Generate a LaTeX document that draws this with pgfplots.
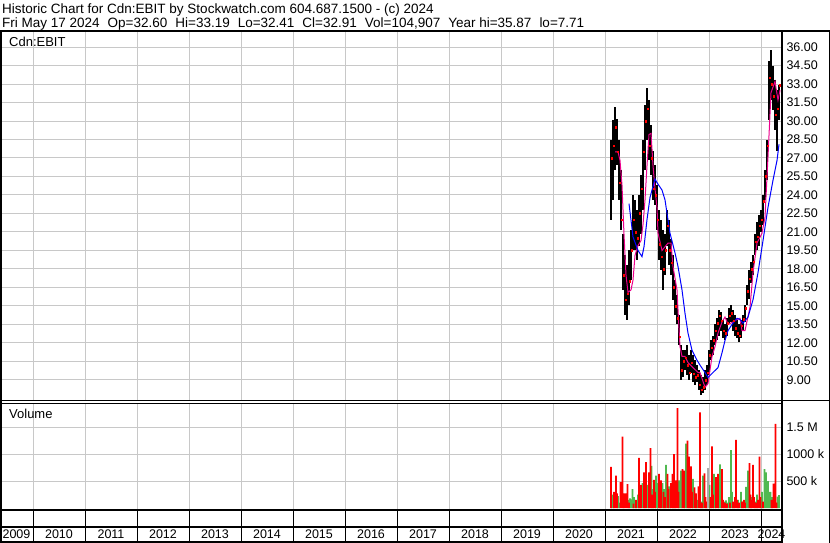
\documentclass[border=0pt]{standalone}
\usepackage{fontspec}
\setmainfont{Liberation Sans}
\usepackage{pgfplots}
\usepackage{pgfplotstable}
\pgfplotsset{compat=1.18}

\definecolor{gridgray}{RGB}{200,200,200}
\definecolor{volred}{RGB}{255,0,0}
\definecolor{volgreen}{RGB}{80,185,80}
\definecolor{volgray}{RGB}{170,170,170}

% w = weeks since 1 Jan 2021 (52 weeks a year on the chart)
\pgfplotstableread{
w    lo    hi    cl
6    22.0  28.5  27.0
8    23.6  30.1  28.0
10   26.0  31.1  29.5
12   26.4  30.2  27.5
14   23.6  28.5  25.0
16   21.2  26.0  22.0
18   16.3  20.8  17.5
20   14.3  19.1  15.5
22   13.9  18.3  16.0
24   15.1  19.5  17.0
26   17.1  21.2  19.5
28   19.5  24.0  22.0
30   19.5  23.6  21.0
32   18.7  22.8  20.5
34   19.9  24.0  22.5
36   20.8  25.6  24.5
38   22.8  28.5  27.5
40   26.0  31.3  30.0
42   28.5  32.7  31.0
44   26.8  31.7  28.0
46   25.6  29.7  27.0
48   23.6  27.6  24.5
50   23.2  26.4  24.0
52   21.2  24.8  22.0
54   18.7  22.8  20.0
56   17.9  22.0  19.0
58   16.3  21.2  18.0
60   17.5  20.8  19.5
62   19.9  22.8  21.5
64   18.3  22.0  19.5
66   17.5  20.4  18.5
68   15.5  19.1  16.5
70   14.3  17.1  15.0
72   13.5  15.9  14.0
74   11.8  14.3  12.5
76   9.0   11.8  9.8
78   9.2   11.4  10.5
80   9.8   11.4  10.8
82   9.4   11.8  10.2
84   9.0   11.0  9.6
86   9.6   11.4  10.4
88   8.8   11.0  9.5
90   8.6   10.6  9.2
92   8.8   10.2  9.4
94   8.2   9.8   8.6
96   7.8   9.4   8.2
98   7.9   9.2   8.4
100  8.2   9.8   9.0
102  8.6   10.2  9.6
104  9.4   11.4  11.0
106  10.6  12.2  11.6
108  11.0  12.6  12.2
110  11.8  13.5  13.0
112  12.2  14.0  13.6
114  12.6  14.7  14.2
116  13.0  14.5  13.8
118  12.4  13.9  13.0
120  12.2  13.5  12.8
122  12.6  14.0  13.6
124  13.5  14.8  14.2
126  13.7  15.1  14.4
128  13.0  14.7  13.8
130  12.6  14.3  13.2
132  12.4  13.9  12.8
134  12.1  13.5  12.6
136  12.4  13.9  13.4
138  13.0  14.3  13.9
140  13.7  15.1  14.8
142  15.1  16.7  16.2
144  15.6  17.9  17.2
146  16.9  18.6  18.0
148  17.5  19.1  18.6
150  19.1  20.8  20.2
152  19.5  21.8  20.6
154  19.9  22.4  21.5
156  21.0  22.8  22.0
158  21.6  24.0  23.5
160  23.6  26.0  25.5
162  25.2  28.5  28.0
164  30.1  34.9  33.5
166  31.7  35.8  33.0
168  30.9  34.5  32.0
170  29.3  33.3  30.5
172  27.6  32.5  31.0
174  30.1  32.9  32.9
}\pricedata

\pgfplotstableread{
w    ma
10   27.5
13   27.5
15   26.8
17   24.8
19   20.8
21   17.5
23   16.1
26   16.3
28   17.1
30   19.1
33   19.9
36   20.3
38   21.6
40   23.6
42   26.4
44   28.9
46   29.0
48   26.4
50   24.5
52   23.0
53   20.9
57   19.5
60   19.8
63   20.1
66   20.1
68   18.2
72   16.3
73   14.7
75   11.7
77   10.9
80   10.9
83   10.4
88   10.0
93   9.6
95   9.6
100  8.4
103  8.7
107  10.9
110  11.7
113  12.8
117  13.7
120  14.1
123  13.5
128  13.7
132  13.9
135  14.0
137  13.0
140  13.0
145  14.9
148  17.7
152  20.1
157  20.9
160  22.2
163  27.1
166  32.3
170  33.2
173  31.7
175  32.5
}\mashort

\pgfplotstableread{
w    ma
24   23.3
28   20.6
33   19.5
37   19.0
39   19.8
42   22.0
45   23.8
50   25.3
52   25.0
57   24.4
60   23.6
65   20.9
70   19.3
73   18.2
77   16.3
80   14.4
83   12.8
87   11.4
92   10.6
95   10.2
100  9.6
103  9.2
108  9.6
113  10.0
117  11.2
120  12.2
123  13.0
127  13.5
132  14.0
135  13.9
138  13.6
143  14.1
148  15.5
153  17.7
158  20.3
163  23.0
168  25.2
172  26.8
174  28.1
}\malong

% volume in millions
\pgfplotstableread{
w     v
7     0.25
8.5   0.12
13    0.22
14    0.10
18.5  0.08
23.5  0.15
25    0.18
26.5  0.16
27.5  0.35
29    0.20
30    0.12
32    0.10
33    0.25
35    0.15
37.5  0.46
40    0.30
42.5  0.43
43.5  0.28
46.5  0.78
48    0.35
51    0.60
52.5  0.46
55    0.30
57.5  0.46
59    0.35
61    0.80
64    0.40
65    0.25
68    0.30
70    0.35
74    0.51
75    0.40
76    0.69
80    0.55
81    1.19
83.5  0.45
85    0.35
88    0.54
90.5  0.20
92    0.15
96    0.12
98    0.60
101   0.10
104.5 0.43
106   0.15
109   0.63
110   0.25
114   0.20
115   0.81
116   0.30
119   0.12
121   0.14
123   0.10
124   0.20
126   1.07
127   0.30
129   0.10
133   0.15
136   0.30
138   0.12
141   0.39
142   0.25
143   0.69
146   0.20
150   0.12
152   0.25
156   0.15
157   0.30
159.5 0.72
161   0.66
162   0.40
163   0.50
164   0.30
165.5 0.30
167   0.20
172.5 0.21
174   0.24
}\volup

\pgfplotstableread{
w     v
6     0.76
9     0.30
10    0.15
11    0.60
12    0.27
15.5  0.48
16.5  0.20
17.5  1.32
19    0.27
20    0.12
21    0.27
22.5  0.44
24    0.10
28.5  0.08
31    0.15
34    0.93
36    0.43
39    0.66
41    0.85
44    0.66
45.5  1.11
47.5  0.25
49    0.52
50    0.30
54    0.63
56    0.51
58.5  0.30
60    0.20
62.5  0.63
63.5  0.35
66    0.46
67.5  0.63
69    1.00
71    0.51
72.5  1.85
73.5  0.30
77.5  0.72
79    0.69
82.5  1.25
84    0.95
86    0.77
87    0.30
89.5  0.38
91    0.27
93.5  0.40
95    1.77
97    0.10
99.5  0.64
100.5 0.20
102   0.12
105.5 0.20
107   1.14
108   0.25
111   0.57
112   0.30
113   0.63
117   0.72
118   0.15
120   0.10
122   0.08
125   0.10
128   0.12
130   0.20
131   1.26
132   0.15
134   0.10
137   0.12
139   0.15
140   0.10
144.5 0.83
145.5 0.25
147   0.15
148   0.80
149   0.20
151   0.10
153   0.15
154.5 0.95
155.5 0.20
158   0.12
166.5 0.15
168.5 0.45
169.5 0.20
170.5 1.56
171.5 0.10
}\voldown

\pgfplotsset{
  swbase/.style={
    scale only axis, width=782pt,
    xmin=-605, xmax=177,
    axis line style={draw=none},
    major tick length=0pt,
    xtick={-572,-520,...,156}, xticklabels={},
    grid style={gridgray, line width=1pt},
    ticklabel style={font=\fontsize{12.5}{14}\selectfont},
    /pgf/number format/assume math mode=true,
  },
}

\begin{document}
\begin{tikzpicture}
\path[use as bounding box] (0,0) rectangle (830pt,-543pt);

% price panel
\begin{axis}[swbase,
  at={(0pt,-400pt)}, anchor=south west, height=368pt,
  ymin=7.37, ymax=37.22,
  ytick={9,10.5,12,13.5,15,16.5,18,19.5,21,22.5,24,25.5,27,28.5,30,31.5,33,34.5,36},
  xmajorgrids, ymajorgrids,
  yticklabel pos=right,
  yticklabel style={anchor=west, xshift=1pt,
    /pgf/number format/.cd, fixed, fixed zerofill, precision=2},
]
\addplot[mark=none, draw=none, forget plot,
  error bars/.cd, y dir=both, y explicit, error mark=none,
  error bar style={draw=black, line width=1.7pt}]
  table[x=w, y expr=(\thisrow{lo}+\thisrow{hi})/2,
        y error expr=(\thisrow{hi}-\thisrow{lo})/2] {\pricedata};
\addplot[only marks, mark=square*, mark size=0.8pt, color=red,
  mark options={draw=none}] table[x expr=\thisrow{w}+0.6, y=cl] {\pricedata};
\addplot[magenta, line width=1pt] table[x=w, y=ma] {\mashort};
\addplot[blue, line width=1pt] table[x=w, y=ma] {\malong};
\end{axis}

% volume panel
\begin{axis}[swbase,
  at={(0pt,-510pt)}, anchor=south west, height=106pt,
  ymin=-0.037, ymax=1.926,
  ytick={0.5,1,1.5}, yticklabels={500 k,1000 k,1.5 M},
  xmajorgrids, ymajorgrids,
  yticklabel pos=right,
  yticklabel style={anchor=west, xshift=1pt},
]
\addplot[ybar, bar width=1.6pt, bar shift=0pt, fill=volgreen, draw=none]
  table[x=w, y=v] {\volup};
\addplot[ybar, bar width=1.6pt, bar shift=0pt, fill=volred, draw=none]
  table[x=w, y=v] {\voldown};
\addplot[ybar, bar width=1.6pt, bar shift=0pt, fill=volgray, draw=none]
  coordinates {(103,0.75)};
\end{axis}

% year strip
\begin{axis}[scale only axis, width=782pt,
  at={(0pt,-542pt)}, anchor=south west, height=32pt,
  xmin=-605, xmax=177, ymin=0, ymax=1,
  axis line style={draw=none}, major tick length=0pt, ytick=\empty,
  xtick={-588.5,-546,-494,-442,-390,-338,-286,-234,-182,-130,-78,-26,26,78,130,166.5},
  xticklabels={2009,2010,2011,2012,2013,2014,2015,2016,2017,2018,2019,2020,2021,2022,2023,2024},
  xticklabel style={anchor=center, yshift=7.5pt, font=\fontsize{12.5}{14}\selectfont},
  extra x ticks={-572,-520,-468,-416,-364,-312,-260,-208,-156,-104,-52,0,52,104,156},
  extra x tick labels={},
  extra x tick style={grid=major, major grid style={black, line width=1pt}},
]
\end{axis}

% frame
\draw[line width=2pt] (0,-31.5pt) -- (830pt,-31.5pt);
\draw[line width=2pt] (1pt,-31.5pt) -- (1pt,-543pt);
\draw[line width=2pt] (782pt,-31.5pt) -- (782pt,-543pt);
\draw[line width=1.5pt] (829.25pt,-31.5pt) -- (829.25pt,-543pt);
\draw[line width=1pt] (0,-400.5pt) -- (830pt,-400.5pt);
\draw[line width=1pt] (0,-403pt) -- (782pt,-403pt);
\draw[line width=2pt] (0,-510pt) -- (782pt,-510pt);
\draw[line width=2pt] (0,-527pt) -- (782pt,-527pt);
\draw[line width=1.5pt] (0,-542pt) -- (782pt,-542pt);

% texts
\newcommand\gap{\hspace{8pt}}
\node[anchor=base west, inner sep=0pt, font=\fontsize{13.5}{15}\selectfont]
  at (2pt,-13.5pt) {Historic Chart for Cdn:EBIT by Stockwatch.com 604.687.1500 - (c) 2024};
\node[anchor=base west, inner sep=0pt, font=\fontsize{13.5}{15}\selectfont]
  at (2pt,-27.5pt) {Fri May 17 2024\gap Op=32.60\gap Hi=33.19\gap Lo=32.41\gap Cl=32.91\gap Vol=104,907\gap Year hi=35.87\gap lo=7.71};
\node[anchor=base west, inner sep=0pt, font=\fontsize{13}{15}\selectfont]
  at (9pt,-46.5pt) {Cdn:EBIT};
\node[anchor=base west, inner sep=0pt, font=\fontsize{13}{15}\selectfont]
  at (9pt,-418pt) {Volume};
\end{tikzpicture}
\end{document}
